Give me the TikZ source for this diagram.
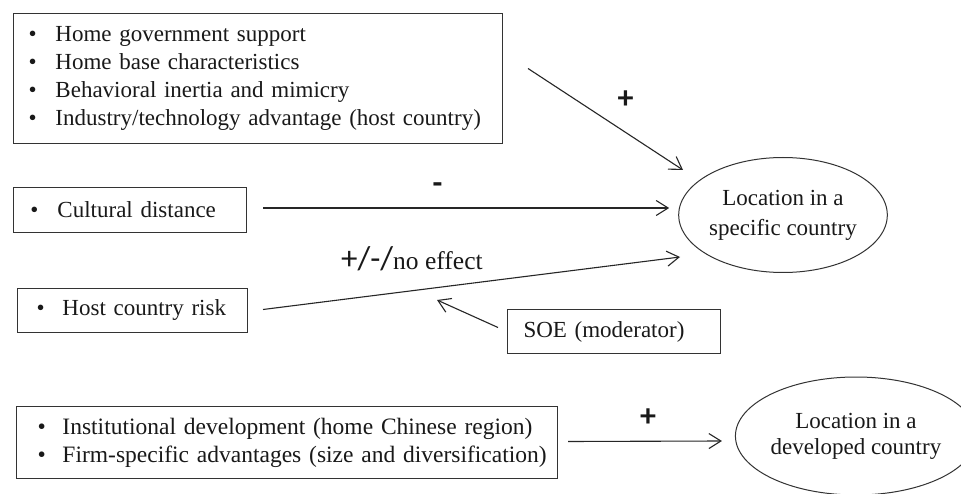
\documentclass[tikz,border=0pt]{standalone}
\usepackage{fontspec}
\setmainfont{Liberation Serif}
\newfontfamily\signfont{Carlito}
\usetikzlibrary{arrows.meta,shapes.geometric,calc}

% bullet item with a fixed-width bullet column, kept on one line
\newcommand{\bitem}[2][27pt]{\mbox{\makebox[#1][l]{\textbullet}#2}}

\begin{document}
\begin{tikzpicture}[x=1pt,y=-1pt,
  every node/.style={text=black!90},
  factor/.style={draw=black!80, line width=1pt, rectangle, align=left,
    font=\fontsize{23}{28}\selectfont, inner ysep=0pt, anchor=north west},
  outcome/.style={draw=black!80, line width=1pt, ellipse, align=center,
    inner sep=0pt, font=\fontsize{23}{30}\selectfont},
  link/.style={draw=black!85, line width=1.1pt,
    -{Straight Barb[length=12pt,width=15pt,line width=1.1pt]}},
  sign/.style={font=\signfont\bfseries\fontsize{32}{32}\selectfont, inner sep=0pt}]

\useasboundingbox (0,0) rectangle (961,494);
\fill[white] (0,0) rectangle (961,494);

% determinants of location in a specific country
\node[factor, inner xsep=15pt, text width=459pt, minimum height=130pt] (home) at (13,13)
  {\bitem{Home government support}\\
   \bitem{Home base characteristics}\\
   \bitem{Behavioral inertia and mimicry}\\
   \bitem{Industry/technology advantage (host country)}};

\node[factor, inner xsep=17pt, text width=199pt, minimum height=45pt] (cult) at (13,187)
  {\bitem{Cultural distance}};

\node[factor, inner xsep=19pt, text width=192pt, minimum height=44pt] (risk) at (17,288)
  {\bitem[26pt]{Host country risk}};

\node[factor, inner xsep=16pt, text width=181pt, minimum height=44pt] (soe) at (507,309)
  {SOE (moderator)};

% determinants of location in a developed country
\node[factor, inner xsep=10pt, text width=521pt, minimum height=72pt,
      font=\fontsize{23.5}{28}\selectfont] (inst) at (16,406)
  {\hspace*{11pt}\bitem[25pt]{Institutional development (home Chinese region)}\\
   \hspace*{11pt}\bitem[25pt]{Firm-specific advantages (size and diversification)}};

% outcomes
\node[outcome, minimum width=208pt, minimum height=115pt] (spec) at (783,215)
  {Location in a\\specific country};
\node[outcome, minimum width=236pt, minimum height=118pt, font=\fontsize{23}{26}\selectfont]
  (dev) at (856,436) {Location in a\\developed country};

% connector end points
\coordinate (homeS) at ($(home.east)+(25,-10)$);
\coordinate (homeE) at ($(spec.center)+(-100,-45)$);
\coordinate (cultS) at ($(cult.east)+(16,-2)$);
\coordinate (cultE) at ($(spec.west)+(-9,-7)$);
\coordinate (riskS) at ($(risk.east)+(15,-1)$);
\coordinate (riskE) at ($(spec.center)+(-103,42)$);
\coordinate (modS)  at ($(soe.west)+(-9,-4)$);
\coordinate (modE)  at (437,300);
\coordinate (instS) at ($(inst.east)+(10,-1)$);
\coordinate (instE) at ($(dev.west)+(-13,5)$);

\draw[link] (homeS) -- (homeE);
\draw[link] (cultS) -- (cultE);
\draw[link] (riskS) -- (riskE);
\draw[link] (modS) -- (modE);
\draw[link] (instS) -- (instE);

% effect signs
\node[sign] (p1) at (625.5,100) {+};
\node[sign] (m1) at (437.5,188) {-};
\node[anchor=base west, inner sep=0pt] (mix) at (341,270)
  {\signfont\fontsize{33}{33}\selectfont +/-/\rmfamily\fontsize{25.5}{25.5}\selectfont no effect};
\node[sign] (p2) at (648,418) {+};

\end{tikzpicture}
\end{document}
